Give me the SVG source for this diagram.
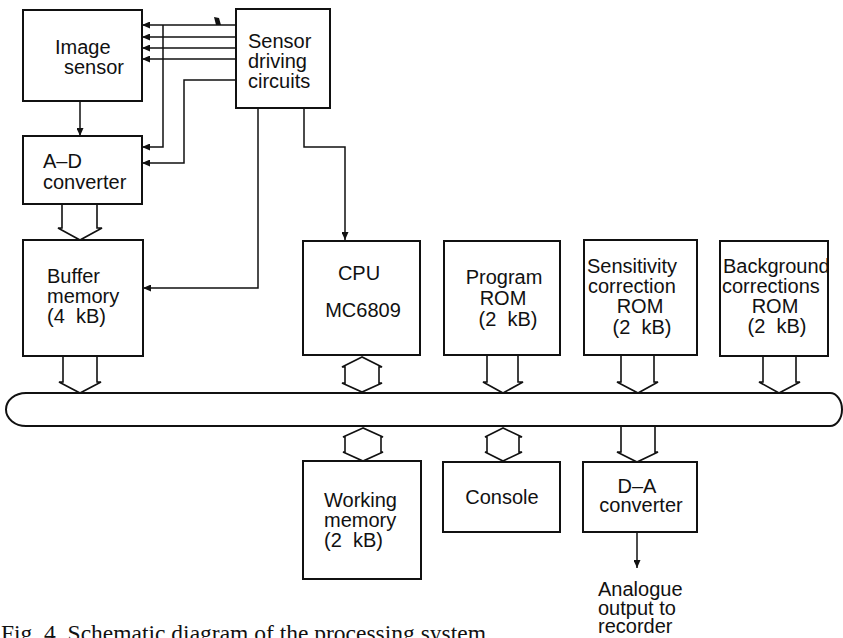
<svg xmlns="http://www.w3.org/2000/svg" width="843" height="638" viewBox="0 0 843 638">
<style>
.box{fill:#fff;stroke:#111;stroke-width:2}
.ln{fill:none;stroke:#111;stroke-width:1.5}
.fat{fill:none;stroke:#111;stroke-width:1.6;stroke-linejoin:miter}
.t{font-family:"Liberation Sans",Arial,sans-serif;font-size:20px;fill:#111}
.m{text-anchor:middle}
.cap{font-family:"Liberation Serif","Times New Roman",serif;font-size:23.5px;fill:#111}
</style>
<defs>
<marker id="ah" markerUnits="userSpaceOnUse" markerWidth="9" markerHeight="7" refX="8" refY="3.5" orient="auto">
<path d="M0,0 L8,3.5 L0,7 z" fill="#111"/>
</marker>
</defs>
<rect width="843" height="638" fill="#fff"/>

<g id="connectors">
<path class="ln" d="M236,25 H142" marker-end="url(#ah)"/>
<path class="ln" d="M236,37 H142" marker-end="url(#ah)"/>
<path class="ln" d="M236,48 H142" marker-end="url(#ah)"/>
<path class="ln" d="M236,59 H142" marker-end="url(#ah)"/>
<path d="M214,17 L219,18 L221,25 L216,25 Z" fill="#111"/>
<path class="ln" d="M163,25 V147 H142" marker-end="url(#ah)"/>
<path class="ln" d="M236,80 H184 V163 H142" marker-end="url(#ah)"/>
<path class="ln" d="M80,101 V136" marker-end="url(#ah)"/>
<path class="ln" d="M258,108 V288 H143" marker-end="url(#ah)"/>
<path class="ln" d="M304,108 V147 H345 V240" marker-end="url(#ah)"/>
<path class="ln" d="M637,532 V568" marker-end="url(#ah)"/>
<path class="fat" d="M62,204 V228 H58 L80,240 L102,228 H97 V204"/>
<path class="fat" d="M63,356 V382 H59 L80,393 L101,382 H97 V356"/>
<path class="fat" d="M487,355 V382 H483 L503,393 L523,382 H518 V355"/>
<path class="fat" d="M621,355 V382 H617 L638,393 L658,382 H654 V355"/>
<path class="fat" d="M763,356 V382 H759 L779,393 L800,382 H796 V356"/>
<path class="fat" d="M621,426 V452 H617 L637,462 L658,452 H655 V426"/>
<path class="fat" d="M362,357 L342,367 H345 V383 H342 L362,392 L382,383 H379 V367 H382 Z"/>
<path class="fat" d="M363,428 L343,437 H345 V452 H343 L363,461 L383,452 H381 V437 H383 Z"/>
<path class="fat" d="M503,428 L485,437 H487 V452 H485 L503,461 L522,452 H519 V437 H522 Z"/>
</g>

<g id="bus">
<path d="M26,393 H830 A12,16.5 0 0 1 830,426 H26 A20,16.5 0 0 1 26,393 Z" fill="#fff" stroke="#111" stroke-width="2"/>
</g>

<g id="image-sensor">
<rect class="box" x="23" y="10" width="119" height="91"/>
<text class="t" x="55" y="54">Image</text>
<text class="t" x="64" y="74">sensor</text>
</g>

<g id="sensor-driving">
<rect class="box" x="236" y="9" width="94" height="99"/>
<text class="t" x="248" y="48">Sensor</text>
<text class="t" x="248" y="68">driving</text>
<text class="t" x="248" y="88">circuits</text>
</g>

<g id="ad-converter">
<rect class="box" x="23" y="136" width="119" height="68"/>
<text class="t" x="43" y="168">A–D</text>
<text class="t" x="43" y="189">converter</text>
</g>

<g id="buffer-memory">
<rect class="box" x="23" y="240" width="120" height="116"/>
<text class="t" x="47" y="283">Buffer</text>
<text class="t" x="47" y="303">memory</text>
<text class="t" x="47" y="323" xml:space="preserve">(4  kB)</text>
</g>

<g id="cpu">
<rect class="box" x="303" y="241" width="117" height="114"/>
<text class="t m" x="359" y="280">CPU</text>
<text class="t m" x="363" y="317" font-size="22">MC6809</text>
</g>

<g id="program-rom">
<rect class="box" x="444" y="241" width="116" height="114"/>
<text class="t m" x="504" y="284">Program</text>
<text class="t m" x="503" y="305">ROM</text>
<text class="t m" x="508" y="326" xml:space="preserve">(2  kB)</text>
</g>

<g id="sensitivity-rom">
<rect class="box" x="584" y="240" width="113" height="115"/>
<text class="t" x="587" y="273" font-size="20.5">Sensitivity</text>
<text class="t" x="588" y="293" font-size="20.5">correction</text>
<text class="t m" x="640" y="313">ROM</text>
<text class="t m" x="642" y="334" xml:space="preserve">(2  kB)</text>
</g>

<g id="background-rom">
<rect class="box" x="720" y="241" width="108" height="115"/>
<text class="t" x="723" y="273" font-size="19">Background</text>
<text class="t" x="722" y="293" font-size="20.5">corrections</text>
<text class="t m" x="775" y="313">ROM</text>
<text class="t m" x="777" y="333" xml:space="preserve">(2  kB)</text>
</g>

<g id="working-memory">
<rect class="box" x="303" y="461" width="118" height="118"/>
<text class="t" x="324" y="507">Working</text>
<text class="t" x="324" y="527">memory</text>
<text class="t" x="324" y="547" xml:space="preserve">(2  kB)</text>
</g>

<g id="console">
<rect class="box" x="443" y="462" width="117" height="70"/>
<text class="t m" x="502" y="504">Console</text>
</g>

<g id="da-converter">
<rect class="box" x="583" y="462" width="114" height="70"/>
<text class="t m" x="637" y="493">D–A</text>
<text class="t m" x="641" y="512">converter</text>
</g>

<g id="output-label">
<text class="t" x="598" y="596" font-size="19.5">Analogue</text>
<text class="t" x="598" y="615" font-size="19.5">output to</text>
<text class="t" x="598" y="633" font-size="19.5">recorder</text>
</g>

<text class="cap" x="1" y="641">Fig. 4. Schematic diagram of the processing system.</text>
</svg>
